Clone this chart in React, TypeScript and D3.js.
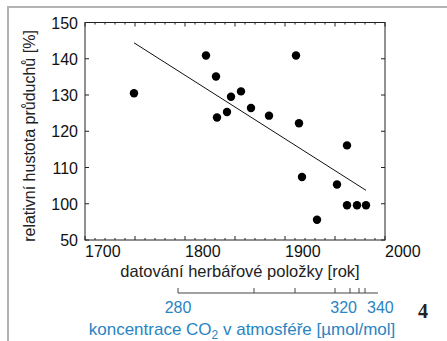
import * as d3 from "d3";

// herbarium samples: year of collection vs relative stomatal density
const years = [1749, 1821, 1831, 1832, 1842, 1846, 1856, 1866, 1884, 1911, 1914, 1917, 1932, 1952, 1962, 1962, 1972, 1981];
const density = [130.5, 140.9, 135.1, 123.8, 125.3, 129.5, 131.0, 126.4, 124.3, 140.9, 122.2, 107.4, 95.6, 105.3, 116.1, 99.6, 99.6, 99.6];

// regression line endpoints
const fitYears = [1749, 1981];
const fitDensity = [144.4, 103.7];

const yTicks = [90, 100, 110, 120, 130, 140, 150];
const yTickLabels = ["50", "100", "110", "120", "130", "140", "150"];
const xTicks = [1700, 1800, 1900, 2000];

// CO2 axis: concentration mapped to the year it was reached
const co2Values = [280, 290, 300, 310, 320, 330, 340];
const co2Years = [1793, 1869, 1910, 1950, 1965, 1974, 1980];
const co2Labels = ["280", "320", "340"];

const font = "'Liberation Sans', Arial, sans-serif";
const blue = "#2a84c2";

export default function App() {
  const width = 447;
  const height = 341;
  const left = 85, right = 385, top = 22.5, bottom = 240;

  const x = d3.scaleLinear().domain([1700, 2000]).range([left, right]);
  const y = d3.scaleLinear().domain([90, 150]).range([bottom, top]);

  const minor = d3.range(1700, 2001, 10);
  const co2Axis = 293;

  const line = d3.line<number>()
    .x((d, i) => x(fitYears[i]))
    .y((d) => y(d));

  return (
    <svg width={width} height={height} style={{ position: "absolute", left: 0, top: 0, background: "#fff" }}>
      {/* page frame */}
      <path d={`M8,${height} V7 H447`} fill="none" stroke="#b3b3b3" strokeWidth={2} />

      {/* plot box */}
      <rect x={left} y={top} width={right - left} height={bottom - top} fill="none" stroke="#222" strokeWidth={1} />

      {/* x ticks on top and bottom */}
      {minor.map((v) => {
        const len = v % 50 === 0 ? 4 : 2;
        return (
          <g key={v} stroke="#222" strokeWidth={1}>
            <line x1={x(v)} x2={x(v)} y1={bottom} y2={bottom - len} />
            <line x1={x(v)} x2={x(v)} y1={top} y2={top + len} />
          </g>
        );
      })}

      {/* y ticks on both sides */}
      {yTicks.map((v, i) => (
        <g key={v}>
          <line x1={left} x2={left + 4} y1={y(v)} y2={y(v)} stroke="#222" />
          <line x1={right} x2={right - 4} y1={y(v)} y2={y(v)} stroke="#222" />
          <text x={left - 7} y={y(v) + 6} textAnchor="end" fontFamily={font} fontSize={16} fill="#111">
            {yTickLabels[i]}
          </text>
        </g>
      ))}

      {xTicks.map((v) => (
        <text key={v} x={x(v)} y={257} textAnchor="start" fontFamily={font} fontSize={16} fill="#111">
          {v}
        </text>
      ))}

      {/* regression line */}
      <path d={line(fitDensity) || ""} fill="none" stroke="#111" strokeWidth={1} />

      {/* points */}
      {years.map((yr, i) => (
        <circle key={i} cx={x(yr)} cy={y(density[i])} r={4.2} fill="#000" />
      ))}

      {/* axis titles */}
      <text x={240} y={277} textAnchor="middle" fontFamily={font} fontSize={16.5} fill="#222">
        datování herbářové položky [rok]
      </text>
      <text
        transform={`translate(35,136) rotate(-90)`}
        textAnchor="middle"
        fontFamily={font}
        fontSize={16}
        fill="#222"
      >
        relativní hustota průduchů [%]
      </text>

      {/* CO2 axis */}
      <line x1={x(co2Years[0])} x2={x(1993)} y1={co2Axis} y2={co2Axis} stroke="#444" />
      {co2Years.map((yr, i) => (
        <line key={co2Values[i]} x1={x(yr)} x2={x(yr)} y1={co2Axis} y2={co2Axis - 5} stroke="#444" />
      ))}
      {co2Labels.map((lab) => {
        const i = co2Values.indexOf(+lab);
        const anchor = lab === "280" ? "middle" : lab === "320" ? "end" : "start";
        const dx = lab === "280" ? 0 : lab === "320" ? 7 : 2;
        return (
          <text key={lab} x={x(co2Years[i]) + dx} y={313} textAnchor={anchor} fontFamily={font} fontSize={16} fill={blue}>
            {lab}
          </text>
        );
      })}
      <text x={242} y={335} textAnchor="middle" fontFamily={font} fontSize={17} fill={blue}>
        koncentrace CO<tspan dy={4} fontSize={12}>2</tspan>
        <tspan dy={-4}> v atmosféře [µmol/mol]</tspan>
      </text>

      <text x={418} y={318} fontFamily="'Liberation Serif', 'DejaVu Serif', serif" fontWeight="bold" fontSize={20} fill="#222">
        4
      </text>
    </svg>
  );
}
